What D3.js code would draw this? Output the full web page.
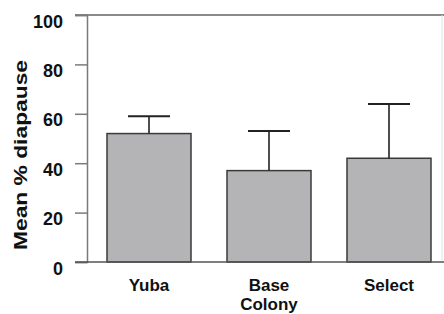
<!DOCTYPE html>
<html lang="en">
<head>
<meta charset="UTF-8">
<title>Mean % diapause</title>
<script src="https://d3js.org/d3.v7.min.js"></script>
<style>
    body, html {
        margin: 0;
        background: #fff;
        font-family: 'Liberation Sans', Arial, sans-serif;
    }
</style>
</head>
<body>
<svg id="chart"></svg>
<script>
    const categories = ["Yuba", "Base\nColony", "Select"];
    const means = [52, 37, 42];
    const errors = [7, 16, 22];
    const yTicks = [0, 20, 40, 60, 80, 100];

    const W = 444, H = 314;
    const svg = d3.select("#chart").attr("width", W).attr("height", H);

    const data = categories.map((c, i) => ({ cat: c, mean: means[i], err: errors[i] }));

    const x = d3.scaleBand().domain(categories).range([87, 451])
        .paddingInner(0.3).paddingOuter(0.1667);
    const y = d3.scaleLinear().domain([0, 100]).range([262, 15]);

    const axisCol = "#7a7a7a";

    // frame lines
    svg.append("line").attr("x1", 75).attr("x2", W).attr("y1", y(100)).attr("y2", y(100))
        .attr("stroke", "#8a8a8a").attr("stroke-width", 2);
    svg.append("line").attr("x1", 442).attr("x2", 442).attr("y1", y(100)).attr("y2", y(0))
        .attr("stroke", "#e4e4e4").attr("stroke-width", 1);

    // y axis
    const yAxis = svg.append("g").attr("transform", "translate(87,0)")
        .call(d3.axisLeft(y).tickValues(yTicks).tickSize(12).tickPadding(0));
    yAxis.select(".domain").attr("stroke", axisCol).attr("stroke-width", 1.5);
    yAxis.selectAll(".tick line").attr("stroke", axisCol).attr("stroke-width", 1.5);
    yAxis.selectAll(".tick text").remove();
    yAxis.selectAll(".tick").append("text")
        .attr("x", -24).attr("y", 12)
        .attr("text-anchor", "end")
        .attr("fill", "#111")
        .style("font-size", "18px").style("font-weight", "bold")
        .text(d => d);

    // bars
    svg.selectAll(".bar").data(data).enter().append("rect")
        .attr("class", "bar")
        .attr("x", d => x(d.cat))
        .attr("y", d => y(d.mean))
        .attr("width", x.bandwidth())
        .attr("height", d => y(0) - y(d.mean))
        .attr("fill", "#b4b4b6")
        .attr("stroke", "#3a3a3a").attr("stroke-width", 1.5);

    // error bars
    const cx = d => x(d.cat) + x.bandwidth() / 2;
    const cap = x.bandwidth() / 4;
    svg.selectAll(".err").data(data).enter().append("line")
        .attr("x1", cx).attr("x2", cx)
        .attr("y1", d => y(d.mean)).attr("y2", d => y(d.mean + d.err))
        .attr("stroke", "#222").attr("stroke-width", 1.6);
    svg.selectAll(".cap").data(data).enter().append("line")
        .attr("x1", d => cx(d) - cap).attr("x2", d => cx(d) + cap)
        .attr("y1", d => y(d.mean + d.err)).attr("y2", d => y(d.mean + d.err))
        .attr("stroke", "#222").attr("stroke-width", 2);

    // baseline
    svg.append("line").attr("x1", 75).attr("x2", W).attr("y1", y(0)).attr("y2", y(0))
        .attr("stroke", "#555").attr("stroke-width", 1.5);

    // x labels
    const xl = svg.selectAll(".xl").data(data).enter().append("text")
        .attr("text-anchor", "middle")
        .attr("fill", "#111")
        .style("font-size", "17px").style("font-weight", "bold");
    xl.each(function(d) {
        d.cat.split("\n").forEach((t, i) => {
            d3.select(this).append("tspan")
                .attr("x", cx(d)).attr("y", 291 + i * 19).text(t);
        });
    });

    // y title
    svg.append("text")
        .attr("transform", "translate(27,155) rotate(-90)")
        .attr("text-anchor", "middle")
        .attr("fill", "#111")
        .attr("textLength", 190).attr("lengthAdjust", "spacingAndGlyphs")
        .style("font-size", "18px").style("font-weight", "bold")
        .text("Mean % diapause");
</script>
</body>
</html>
